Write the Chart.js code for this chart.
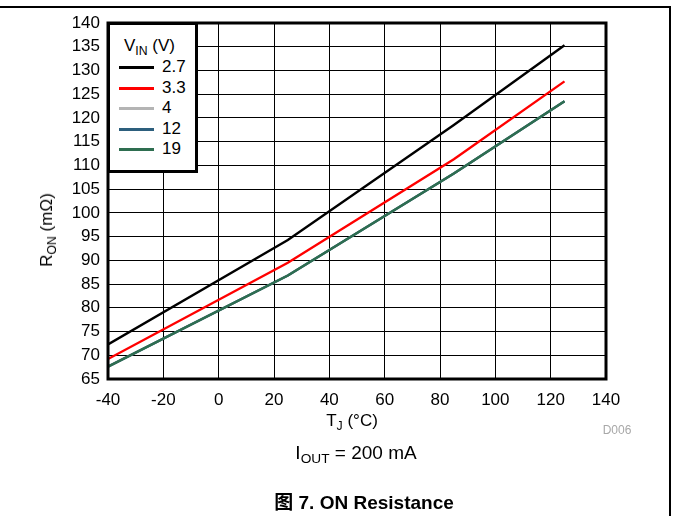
<!DOCTYPE html>
<html>
<head>
<meta charset="utf-8">
<script src="https://cdn.jsdelivr.net/npm/chart.js@4/dist/chart.umd.min.js"></script>
<style>
  html, body { margin: 0; padding: 0; background: #fff; }
  #wrap { position: relative; width: 673px; height: 516px; overflow: hidden;
          font-family: "Liberation Sans", Arial, sans-serif; color: #000; }
  #frame { position: absolute; left: 0; top: 6px; width: 669px; height: 520px;
           border-top: 2px solid #000; border-right: 2px solid #000; }
  canvas { position: absolute; left: 0; top: 0; }
  .txt { position: absolute; white-space: nowrap; }
  sub { font-size: 72%; vertical-align: -0.3em; line-height: 0; }
  #legend { position: absolute; left: 107px; top: 22px; width: 85px; height: 145px;
            background: #fff; border: 3px solid #000; }
  .lg-row { position: absolute; left: 9px; height: 20px; font-size: 17px; }
  .lg-row i { position: absolute; left: 0; top: 9px; width: 35px; height: 3px; }
  .lg-row span { position: absolute; left: 43px; top: 0; line-height: 20px; }
</style>
</head>
<body>
<div id="wrap">
  <div id="frame"></div>
  <canvas id="chart" width="673" height="516"></canvas>
  <div id="legend"></div>
  <div class="txt" id="ytitle" style="left:47px; top:230px; font-size:17px; transform:translate(-50%,-50%) rotate(-90deg);">R<sub>ON</sub> (mΩ)</div>
  <div class="txt" style="left:352px; top:421px; font-size:17px; transform:translate(-50%,-50%);">T<sub>J</sub> (°C)</div>
  <div class="txt" style="left:617px; top:430px; font-size:12px; color:#a8a8a8; transform:translate(-50%,-50%);">D006</div>
  <div class="txt" style="left:356px; top:453px; font-size:19px; transform:translate(-50%,-50%);">I<sub>OUT</sub> = 200 mA</div>
  <div class="txt" style="left:364px; top:500px; font-size:19px; font-weight:bold; transform:translate(-50%,-50%);"><span style="font-family:'Noto Sans CJK SC';">图</span> 7. ON Resistance</div>
</div>
<script>
// junction temperature (°C) at which the curves are sampled
const tempC = [-40, 25, 85, 125];

// R_ON in mOhm per input voltage
const r27 = [72.3, 94.3, 118.5, 135.3];
const r33 = [69.2, 89.5, 111.3, 127.7];
const r4  = [67.6, 86.8, 108.3, 123.5];
const r12 = [67.6, 86.8, 108.3, 123.5];
const r19 = [67.6, 86.8, 108.3, 123.5];

const xTicks = [-40, -20, 0, 20, 40, 60, 80, 100, 120, 140];
const yTicks = [65, 70, 75, 80, 85, 90, 95, 100, 105, 110, 115, 120, 125, 130, 135, 140];

const SERIES = [
  { label: '2.7', data: r27, color: '#000000' },
  { label: '3.3', data: r33, color: '#ff0000' },
  { label: '4',   data: r4,  color: '#b4b4b4' },
  { label: '12',  data: r12, color: '#2d5f7d' },
  { label: '19',  data: r19, color: '#2e6e50' },
];

// --- legend (html so the subscript stays real text) ---
const legend = document.getElementById('legend');
legend.innerHTML = '<div class="txt" style="left:14px; top:11px; font-size:17px;">V<sub>IN</sub> (V)</div>';
SERIES.forEach((s, i) => {
  const row = document.createElement('div');
  row.className = 'lg-row';
  row.style.top = (32 + i * 20.6) + 'px';
  row.innerHTML = `<i style="background:${s.color}"></i><span>${s.label}</span>`;
  legend.appendChild(row);
});

// thick frame round the plot area
const frameBox = {
  id: 'frameBox',
  afterDraw(chart) {
    const { ctx, chartArea: a } = chart;
    ctx.save();
    ctx.strokeStyle = '#000';
    ctx.lineWidth = 3;
    ctx.strokeRect(a.left, a.top, a.right - a.left, a.bottom - a.top);
    ctx.restore();
  }
};

const FONT = { family: "'Liberation Sans', Arial, sans-serif", size: 17 };

// first dataset is drawn on top, so reverse: 19 ends up above 12 and 4
const datasets = SERIES.slice().reverse().map(s => ({
  label: s.label,
  data: tempC.map((t, i) => ({ x: t, y: s.data[i] })),
  borderColor: s.color,
  borderWidth: 2.4,
  pointRadius: 0,
  tension: 0,
  fill: false,
}));

new Chart(document.getElementById('chart'), {
  type: 'line',
  data: { datasets },
  options: {
    responsive: false,
    animation: false,
    layout: { padding: { left: 0, top: 23, right: 67, bottom: 0 } },
    plugins: { legend: { display: false }, tooltip: { enabled: false } },
    scales: {
      x: {
        type: 'linear', min: -40, max: 140,
        afterBuildTicks: s => { s.ticks = xTicks.map(v => ({ value: v })); },
        afterFit: s => { s.height = 137; },
        ticks: { color: '#000', font: FONT, padding: 11 },
        grid: { color: '#000', lineWidth: 1, drawTicks: false },
        border: { display: false },
      },
      y: {
        type: 'linear', min: 65, max: 140,
        afterBuildTicks: s => { s.ticks = yTicks.map(v => ({ value: v })); },
        afterFit: s => { s.width = 108; },
        ticks: { color: '#000', font: FONT, padding: 8 },
        grid: { color: '#000', lineWidth: 1, drawTicks: false },
        border: { display: false },
      },
    },
  },
  plugins: [frameBox],
});
</script>
</body>
</html>
